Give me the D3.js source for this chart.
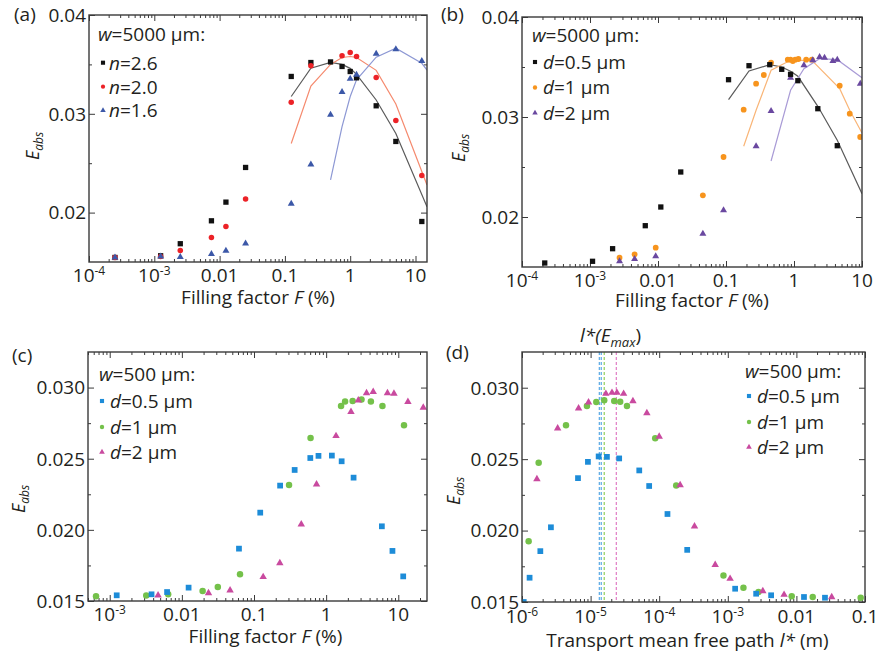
<!DOCTYPE html>
<html>
<head>
<meta charset="utf-8">
<script src="https://d3js.org/d3.v7.min.js"></script>
<style>
  body { margin: 0; background: #fff; }
  svg { display: block; font-family: "Open Sans", sans-serif; }
</style>
</head>
<body>
<div id="chart"></div>
<script>
// ---- data, panel (a): w=5000 um, refractive index n ----
const aF = [0.00025, 0.00125, 0.0025, 0.0075, 0.0125, 0.025, 0.125, 0.25, 0.5, 0.75, 1, 1.25, 2.5, 5, 12.5];
const aE26 = [0.01546, 0.01563, 0.01685, 0.01917, 0.02106, 0.02457, 0.03378, 0.03519, 0.03525, 0.03479, 0.03428, 0.03364, 0.03081, 0.0272, 0.0191];
const aF20 = [0.00025, 0.00125, 0.0025, 0.0075, 0.0125, 0.025, 0.125, 0.25, 0.75, 1, 1.25, 2.5, 5, 12.5];
const aE20 = [0.01546, 0.01556, 0.01617, 0.01749, 0.0186, 0.02137, 0.03118, 0.03486, 0.03587, 0.0362, 0.0358, 0.03368, 0.02933, 0.02376];
const aE16 = [0.01546, 0.01556, 0.0155, 0.0158, 0.01614, 0.01688, 0.02089, 0.02487, 0.0299, 0.0322, 0.03354, 0.03395, 0.03607, 0.03654, 0.03535];
// fitted curves
const aFitF = [0.125, 0.25, 0.5, 0.75, 1, 1.25, 2.5, 5, 15];
const aFit26 = [0.03175, 0.03462, 0.0352, 0.035, 0.0346, 0.034, 0.0314, 0.028, 0.0206];
const aFit20 = [0.027, 0.0328, 0.035, 0.0357, 0.0358, 0.0357, 0.0344, 0.031, 0.0228];
const aFitF16 = [0.5, 0.75, 1, 1.25, 2.5, 5, 12.5, 15];
const aFit16 = [0.0233, 0.0287, 0.03175, 0.03344, 0.03573, 0.03664, 0.03511, 0.03443];

// ---- panel (b): w=5000 um, particle size d ----
const bF05 = [0.000216, 0.00109, 0.00215, 0.0065, 0.011, 0.0216, 0.109, 0.218, 0.44, 0.66, 0.89, 1.14, 2.24, 4.33];
const bE05 = [0.0154, 0.01557, 0.01683, 0.01913, 0.021, 0.0245, 0.03373, 0.03513, 0.03523, 0.03477, 0.03427, 0.03363, 0.03083, 0.02713];
const bF1 = [0.00272, 0.00453, 0.00925, 0.0457, 0.092, 0.182, 0.277, 0.36, 0.46, 0.81, 0.89, 0.96, 1.04, 1.16, 1.51, 1.83, 4.7, 6.6, 9.4];
const bE1 = [0.01593, 0.01627, 0.01693, 0.02217, 0.026, 0.03073, 0.03333, 0.0342, 0.03543, 0.03573, 0.03573, 0.0356, 0.03573, 0.0358, 0.03573, 0.03573, 0.03313, 0.03033, 0.028];
const bF2 = [0.00272, 0.00453, 0.00925, 0.0457, 0.092, 0.277, 0.46, 0.89, 1.4, 1.89, 2.38, 2.81, 3.73, 4.33, 9.44];
const bE2 = [0.01557, 0.0158, 0.01607, 0.01833, 0.02067, 0.02707, 0.0306, 0.03393, 0.03517, 0.03567, 0.036, 0.03593, 0.0356, 0.03573, 0.03333];
const bFitF05 = [0.109, 0.218, 0.44, 0.66, 0.89, 1.14, 2.24, 4.33, 10];
const bFit05 = [0.03173, 0.0346, 0.03523, 0.035, 0.03457, 0.03407, 0.03107, 0.02767, 0.02233];
const bFitF1 = [0.182, 0.277, 0.46, 0.89, 1.83, 4.7, 6.6, 10];
const bFit1 = [0.02707, 0.03067, 0.03467, 0.03567, 0.03567, 0.03283, 0.03067, 0.0284];
const bFitF2 = [0.46, 0.89, 1.4, 2.38, 4.33, 10];
const bFit2 = [0.0256, 0.03267, 0.03483, 0.03583, 0.03573, 0.03393];

// ---- panel (c): w=500 um, vs filling factor ----
const cF05 = [0.00125, 0.0038, 0.00624, 0.0124, 0.0619, 0.122, 0.23, 0.366, 0.603, 0.783, 1.2, 1.64, 2.4, 5.92, 8.3, 11.7];
const cE05 = [0.0154, 0.01547, 0.01563, 0.01594, 0.01868, 0.02121, 0.02311, 0.02421, 0.02505, 0.0252, 0.02522, 0.02482, 0.02367, 0.02025, 0.01852, 0.01673];
const cF1 = [0.000646, 0.00321, 0.00646, 0.0194, 0.0315, 0.064, 0.306, 0.608, 1.61, 1.83, 2.33, 3.09, 4.17, 6.03, 12.0];
const cE1 = [0.01533, 0.01538, 0.01547, 0.0157, 0.01598, 0.01688, 0.02316, 0.02646, 0.02871, 0.02902, 0.02906, 0.02916, 0.02902, 0.02871, 0.02735];
const cF2 = [0.00468, 0.0234, 0.0466, 0.134, 0.228, 0.452, 0.736, 1.37, 2.21, 2.79, 3.63, 4.49, 7.08, 8.71, 13.6, 22.2];
const cE2 = [0.0154, 0.01556, 0.01575, 0.01669, 0.01767, 0.02039, 0.0232, 0.0266, 0.02829, 0.02911, 0.02962, 0.0297, 0.02962, 0.02958, 0.029, 0.0286];

// ---- panel (d): w=500 um, vs transport mean free path (m) ----
const dL05 = [1.06e-6, 1.29e-6, 1.85e-6, 2.64e-6, 6.55e-6, 9.14e-6, 1.31e-5, 1.73e-5, 2.61e-5, 5.12e-5, 7.14e-5, 1.32e-4, 2.56e-4, 1.28e-3, 2.59e-3, 4.28e-3, 0.0129, 0.0261];
const dE05 = [0.015, 0.0167, 0.01856, 0.02023, 0.02367, 0.02481, 0.02519, 0.02516, 0.02505, 0.02421, 0.02312, 0.02116, 0.01865, 0.01593, 0.01558, 0.01547, 0.01535, 0.0153];
const dL1 = [1.25e-6, 1.75e-6, 4.38e-6, 8.85e-6, 1.21e-5, 1.58e-5, 2.21e-5, 2.7e-5, 3.39e-5, 8.75e-5, 1.77e-4, 8.65e-4, 1.69e-3, 2.8e-3, 8.55e-3, 0.0173, 0.0865];
const dE1 = [0.01926, 0.02474, 0.02737, 0.02872, 0.029, 0.02912, 0.02907, 0.02902, 0.02872, 0.02647, 0.02316, 0.01686, 0.016, 0.0157, 0.0154, 0.01535, 0.0153];
const dL2 = [1.65e-6, 3.31e-6, 6.68e-6, 9.33e-6, 1.67e-5, 2.05e-5, 2.42e-5, 3.03e-5, 4.14e-5, 6.61e-5, 1.0e-4, 2.02e-4, 3.27e-4, 6.55e-4, 1.08e-3, 3.24e-3, 6.61e-3, 0.0327];
const dE2 = [0.0236, 0.02716, 0.02856, 0.02898, 0.02958, 0.02965, 0.02965, 0.02958, 0.02907, 0.02823, 0.02658, 0.02319, 0.0203, 0.0176, 0.01663, 0.01577, 0.01551, 0.01535];
// l*(E_max) markers
const dLmax = [1.34e-5, 1.43e-5, 1.58e-5, 2.37e-5];
const dLmaxColors = ["#59a9e4", "#59a9e4", "#8fcf5c", "#e07cc4"];

// tick values
const yTicksTop = [0.02, 0.03, 0.04];
const yMinorTop = [0.025, 0.035];
const yTicksBot = [0.015, 0.02, 0.025, 0.03];
const yMinorBot = [0.0175, 0.0225, 0.0275];

const legendA = ["2.6", "2.0", "1.6"];
const legendD = ["0.5 μm", "1 μm", "2 μm"];

const frameColor = "#3a3a3a";
const textColor = "#231f20";

const svg = d3.select("#chart").append("svg")
  .attr("width", 880).attr("height", 655)
  .attr("fill", textColor);

const shapes = { square: d3.symbolSquare, circle: d3.symbolCircle, triangle: d3.symbolTriangle };

function drawPanel(p) {
  const x = d3.scaleLog().domain(p.xDomain).range(p.xRange);
  const y = d3.scaleLinear().domain(p.yDomain).range(p.yRange);
  const [left, right] = p.xRange;
  const top = p.yRange[1], bottom = p.yRange[0];
  const g = svg.append("g");

  const clip = "clip-" + p.id;
  g.append("clipPath").attr("id", clip).append("rect")
    .attr("x", left).attr("y", top).attr("width", right - left).attr("height", bottom - top);

  // log ticks: decades are major, the rest minor
  const all = x.ticks();
  const isDecade = v => Math.abs(Math.log10(v) - Math.round(Math.log10(v))) < 1e-6;
  const major = all.filter(isDecade);
  const minor = all.filter(v => !isDecade(v));

  const tick = (axis, tx, ty) => g.append("g")
    .attr("transform", `translate(${tx},${ty})`)
    .call(axis)
    .call(s => s.select(".domain").remove())
    .call(s => s.selectAll("line").attr("stroke", frameColor).attr("stroke-width", 1));

  tick(d3.axisBottom(x).tickValues(major).tickSize(-6).tickFormat(""), 0, bottom);
  tick(d3.axisBottom(x).tickValues(minor).tickSize(-3).tickFormat(""), 0, bottom);
  tick(d3.axisTop(x).tickValues(major).tickSize(-6).tickFormat(""), 0, top);
  tick(d3.axisTop(x).tickValues(minor).tickSize(-3).tickFormat(""), 0, top);
  tick(d3.axisLeft(y).tickValues(p.yTicks).tickSize(-6).tickFormat(""), left, 0);
  tick(d3.axisLeft(y).tickValues(p.yMinor).tickSize(-3).tickFormat(""), left, 0);
  tick(d3.axisRight(y).tickValues(p.yTicks).tickSize(-6).tickFormat(""), right, 0);
  tick(d3.axisRight(y).tickValues(p.yMinor).tickSize(-3).tickFormat(""), right, 0);

  // x tick labels
  major.forEach(v => {
    const t = g.append("text").attr("x", x(v)).attr("y", bottom + p.xLabDy)
      .attr("text-anchor", "middle").attr("font-size", 19);
    if (v < 0.01) {
      t.append("tspan").text("10");
      t.append("tspan").attr("dy", -7).attr("font-size", 12).text("-" + Math.round(-Math.log10(v)));
    } else {
      t.text(v);
    }
  });

  // y tick labels
  p.yTicks.forEach(v => {
    g.append("text").attr("x", left - 3).attr("y", y(v)).attr("dy", "0.36em")
      .attr("text-anchor", "end").attr("font-size", 19)
      .text(d3.format(p.yFmt)(v));
  });

  // fitted curves
  const line = d3.line().x(d => x(d[0])).y(d => y(d[1]));
  (p.fits || []).forEach(f => {
    g.append("path").datum(d3.zip(f.F, f.E))
      .attr("clip-path", `url(#${clip})`)
      .attr("d", line).attr("fill", "none")
      .attr("stroke", f.color).attr("stroke-width", 1.2);
  });

  // vertical dashed markers
  (p.vlines || []).forEach(v => {
    g.append("line")
      .attr("x1", x(v.x)).attr("x2", x(v.x))
      .attr("y1", top).attr("y2", bottom)
      .attr("stroke", v.color).attr("stroke-width", 1.2)
      .attr("stroke-dasharray", "3,2");
  });

  // data markers
  p.drawOrder.forEach(i => {
    const s = p.series[i];
    g.append("g").attr("clip-path", `url(#${clip})`)
      .selectAll("path").data(d3.zip(s.F, s.E)).join("path")
      .attr("transform", d => `translate(${x(d[0])},${y(d[1])})`)
      .attr("d", d3.symbol(shapes[s.shape], s.size))
      .attr("fill", s.color);
  });

  // frame
  g.append("rect")
    .attr("x", left).attr("y", top).attr("width", right - left).attr("height", bottom - top)
    .attr("fill", "none").attr("stroke", frameColor).attr("stroke-width", 1.4);

  // panel letter
  g.append("text").attr("x", p.letter[0]).attr("y", p.letter[1])
    .attr("font-size", 19).text(`(${p.id})`);

  // y title
  const yl = g.append("text")
    .attr("transform", `translate(${p.yTitle[0]},${p.yTitle[1]}) rotate(-90)`)
    .attr("text-anchor", "middle").attr("font-size", 18);
  yl.append("tspan").attr("font-style", "italic").text("E");
  yl.append("tspan").attr("font-style", "italic").attr("font-size", 12).attr("dy", 4).text("abs");

  // x title
  const xl = g.append("text")
    .attr("x", (left + right) / 2 + p.xTitle[0]).attr("y", p.xTitle[1])
    .attr("text-anchor", "middle").attr("font-size", 19);
  xl.append("tspan").text(p.xName[0]);
  xl.append("tspan").attr("font-style", "italic").text(p.xName[1]);
  xl.append("tspan").text(p.xName[2]);

  // legend
  const L = p.legend;
  const head = g.append("text").attr("x", L.x).attr("y", L.y).attr("font-size", 19);
  head.append("tspan").attr("font-style", "italic").text("w");
  head.append("tspan").text(L.head);
  p.series.forEach((s, i) => {
    const cy = L.rows[i];
    g.append("path")
      .attr("transform", `translate(${L.mx},${cy})`)
      .attr("d", d3.symbol(shapes[s.shape], s.legendSize))
      .attr("fill", s.color);
    const t = g.append("text").attr("x", L.tx).attr("y", cy + 6.8).attr("font-size", 19);
    t.append("tspan").attr("font-style", "italic").text(L.var);
    t.append("tspan").text("=" + L.labels[i]);
  });

  return { x, y };
}

// (a)
drawPanel({
  id: "a", xDomain: [1e-4, 15], xRange: [89, 427], yDomain: [0.015, 0.04], yRange: [262, 15],
  yTicks: yTicksTop, yMinor: yMinorTop, yFmt: ".2f", xLabDy: 20,
  letter: [14, 21], yTitle: [39, 146], xTitle: [0, 304],
  xName: ["Filling factor ", "F", " (%)"],
  fits: [
    { F: aFitF, E: aFit26, color: "#5a5a5a" },
    { F: aFitF, E: aFit20, color: "#f58a6e" },
    { F: aFitF16, E: aFit16, color: "#8d98d4" }
  ],
  series: [
    { F: aF, E: aE26, shape: "square", size: 28, legendSize: 17, color: "#111111" },
    { F: aF20, E: aE20, shape: "circle", size: 24, legendSize: 14, color: "#ec2227" },
    { F: aF, E: aE16, shape: "triangle", size: 21, legendSize: 13, color: "#3c58a8" }
  ],
  drawOrder: [0, 1, 2],
  legend: { x: 98, y: 41, head: "=5000 μm:", var: "n", labels: legendA, mx: 103, tx: 109, rows: [62.7, 86.7, 110.5] }
});

// (b)
drawPanel({
  id: "b", xDomain: [1e-4, 10], xRange: [522, 862], yDomain: [0.015, 0.04], yRange: [267, 17],
  yTicks: yTicksTop, yMinor: yMinorTop, yFmt: ".2f", xLabDy: 20,
  letter: [441, 21], yTitle: [465, 148], xTitle: [0, 307],
  xName: ["Filling factor ", "F", " (%)"],
  fits: [
    { F: bFitF05, E: bFit05, color: "#5a5a5a" },
    { F: bFitF1, E: bFit1, color: "#f9b577" },
    { F: bFitF2, E: bFit2, color: "#a99bd6" }
  ],
  series: [
    { F: bF05, E: bE05, shape: "square", size: 28, legendSize: 17, color: "#111111" },
    { F: bF1, E: bE1, shape: "circle", size: 26, legendSize: 15, color: "#f7941d" },
    { F: bF2, E: bE2, shape: "triangle", size: 21, legendSize: 13, color: "#6a48a0" }
  ],
  drawOrder: [1, 2, 0],
  legend: { x: 532, y: 42, head: "=5000 μm:", var: "d", labels: legendD, mx: 535, tx: 543, rows: [62, 87.5, 113] }
});

// (c)
drawPanel({
  id: "c", xDomain: [5e-4, 25], xRange: [88, 427], yDomain: [0.015, 0.0325], yRange: [601, 352],
  yTicks: yTicksBot, yMinor: yMinorBot, yFmt: ".3f", xLabDy: 20,
  letter: [12, 362], yTitle: [25, 499], xTitle: [8, 643],
  xName: ["Filling factor ", "F", " (%)"],
  series: [
    { F: cF05, E: cE05, shape: "square", size: 33, legendSize: 17, color: "#1d8cd8" },
    { F: cF1, E: cE1, shape: "circle", size: 33, legendSize: 15, color: "#74c14a" },
    { F: cF2, E: cE2, shape: "triangle", size: 24, legendSize: 14, color: "#c94a9f" }
  ],
  drawOrder: [1, 2, 0],
  legend: { x: 99, y: 381, head: "=500 μm:", var: "d", labels: legendD, mx: 102, tx: 110, rows: [401, 427, 452] }
});

// (d)
drawPanel({
  id: "d", xDomain: [1e-6, 0.1], xRange: [522, 865], yDomain: [0.015, 0.0325], yRange: [602, 352],
  yTicks: yTicksBot, yMinor: yMinorBot, yFmt: ".3f", xLabDy: 21,
  letter: [446, 359], yTitle: [460, 491], xTitle: [-6, 647],
  xName: ["Transport mean free path ", "l*", " (m)"],
  vlines: dLmax.map((v, i) => ({ x: v, color: dLmaxColors[i] })),
  series: [
    { F: dL05, E: dE05, shape: "square", size: 33, legendSize: 17, color: "#1d8cd8" },
    { F: dL1, E: dE1, shape: "circle", size: 33, legendSize: 15, color: "#74c14a" },
    { F: dL2, E: dE2, shape: "triangle", size: 24, legendSize: 14, color: "#c94a9f" }
  ],
  drawOrder: [1, 2, 0],
  legend: { x: 745, y: 378, head: "=500 μm:", var: "d", labels: legendD, mx: 749, tx: 757, rows: [396, 422, 447] }
});

// l*(E_max) annotation above panel (d)
const ann = svg.append("text").attr("x", 580).attr("y", 342).attr("font-size", 19);
ann.append("tspan").attr("font-style", "italic").text("l*(E");
ann.append("tspan").attr("font-style", "italic").attr("font-size", 13).attr("dy", 5).text("max");
ann.append("tspan").attr("dy", -5).text(")");
</script>
</body>
</html>
